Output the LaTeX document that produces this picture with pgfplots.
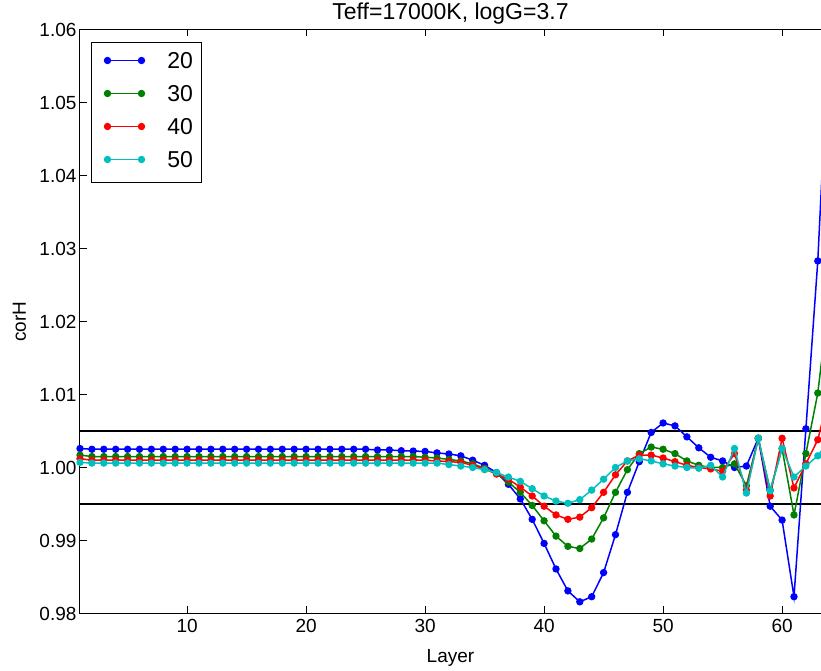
\documentclass[border=0pt]{standalone}
\usepackage{pgfplots}
\pgfplotsset{compat=1.18}
\usepackage{pgfplotstable}
\usepackage{fontspec}
\setmainfont{Liberation Sans}
\definecolor{mblue}{rgb}{0,0,1}
\definecolor{mgreen}{rgb}{0,0.5,0}
\definecolor{mred}{rgb}{1,0,0}
\definecolor{mcyan}{rgb}{0,0.75,0.75}
\pgfplotsset{mylegend/.style={legend image code/.code={%
  \path[draw=none, fill=none] (0pt,-13.25pt) rectangle (44.2pt,8.25pt);
  \draw[#1, line width=1.5pt] plot coordinates {(7.6pt,0pt) (41.6pt,0pt)};}}}
\pgfplotstableread{
x b g r c
1 1.0026 1.0017 1.0012 1.0007
2 1.0025 1.0015 1.0010 1.0006
3 1.0025 1.0015 1.0010 1.0006
4 1.0025 1.0015 1.0010 1.0006
5 1.0025 1.0015 1.0010 1.0006
6 1.0025 1.0015 1.0010 1.0006
7 1.0025 1.0015 1.0010 1.0006
8 1.0025 1.0015 1.0010 1.0006
9 1.0025 1.0015 1.0010 1.0006
10 1.0025 1.0015 1.0010 1.0006
11 1.0025 1.0015 1.0010 1.0006
12 1.0025 1.0015 1.0010 1.0006
13 1.0025 1.0015 1.0010 1.0006
14 1.0025 1.0015 1.0010 1.0006
15 1.0025 1.0015 1.0010 1.0006
16 1.0025 1.0015 1.0010 1.0006
17 1.0025 1.0015 1.0010 1.0006
18 1.0025 1.0015 1.0010 1.0006
19 1.0025 1.0015 1.0010 1.0006
20 1.0025 1.0015 1.0010 1.0006
21 1.0025 1.0015 1.0010 1.0006
22 1.0025 1.0015 1.0010 1.0006
23 1.0025 1.0015 1.0010 1.0006
24 1.0025 1.0015 1.0010 1.0006
25 1.0025 1.0015 1.0010 1.0006
26 1.0024 1.0015 1.0010 1.0006
27 1.0024 1.0015 1.0010 1.0006
28 1.0023 1.0015 1.0010 1.0006
29 1.00225 1.0015 1.0010 1.0006
30 1.0022 1.0014 1.0010 1.0006
31 1.0020 1.0013 1.0009 1.0006
32 1.00185 1.0011 1.0008 1.0004
33 1.0016 1.0009 1.0007 1.0002
34 1.0010 1.0005 1.0003 1.0000
35 1.0003 0.9999 0.9998 0.9997
36 0.9993 0.9992 0.9991 0.9993
37 0.9977 0.9980 0.9984 0.9987
38 0.9957 0.9966 0.9973 0.9981
39 0.9929 0.9948 0.9961 0.9971
40 0.9896 0.9927 0.9947 0.9961
41 0.9861 0.9906 0.9935 0.9954
42 0.9831 0.9892 0.9929 0.9951
43 0.9816 0.9889 0.9932 0.9956
44 0.9823 0.9902 0.9945 0.9969
45 0.9856 0.9931 0.9966 0.9984
46 0.9908 0.9966 0.9990 1.0000
47 0.9966 0.9997 1.0009 1.0009
48 1.0008 1.0019 1.0017 1.0012
49 1.0048 1.0028 1.0017 1.0009
50 1.0061 1.0025 1.0013 1.0005
51 1.0057 1.0019 1.0008 1.0002
52 1.0042 1.0009 1.0003 1.0000
53 1.0027 1.0003 1.0000 0.9999
54 1.0014 1.0000 0.9998 1.0003
55 1.0009 1.0000 0.9995 0.9987
56 1.0000 1.0005 1.0019 1.0026
57 1.0002 0.9975 0.9969 0.9965
58 1.0040 1.0040 1.0040 1.0040
59 0.9947 0.9969 0.9961 0.9968
60 0.9928 1.0026 1.0040 1.0026
61 0.9823 0.9935 0.9972 0.9987
62 1.0053 1.0019 1.0005 1.0002
63 1.0283 1.0102 1.0038 1.0016
64 1.0617 1.0239 1.0103 1.0038
}\datatable
\begin{document}
\begin{tikzpicture}
\begin{axis}[
  scale only axis,
  width=741pt, height=584pt,
  xmin=1, xmax=63.27,
  ymin=0.98, ymax=1.06,
  axis x line*=box, axis y line*=left,
  axis line style={-, line width=1pt, black},
  tick align=inside,
  major tick length=7pt,
  tick style={black, line width=0.8pt},
  xtick={10,20,30,40,50,60},
  xtick pos=both,
  ytick={0.98,0.99,1.00,1.01,1.02,1.03,1.04,1.05,1.06},
  ytick pos=left,
  /pgf/number format/assume math mode=true,
  yticklabel style={/pgf/number format/.cd, fixed, fixed zerofill, precision=2},
  xticklabel style={yshift=-2.5pt},
  ticklabel style={font=\fontsize{19}{20}\selectfont},
  xlabel={Layer}, ylabel={corH},
  label style={font=\fontsize{19}{22}\selectfont},
  xlabel style={yshift=-10pt},
  ylabel style={at={(axis description cs:-0.068,0.5)}, anchor=south},
  title={Teff=17000K, logG=3.7},
  title style={font=\fontsize{23}{24}\selectfont, yshift=-4pt},
  clip mode=individual,
  mylegend,
  legend style={at={(axis description cs:0,1)}, anchor=north west,
    xshift=11pt, yshift=-12.5pt, draw=black, line width=1pt,
    font=\fontsize{23}{23}\selectfont, inner xsep=8.4pt, inner ysep=9.75pt,
    row sep=11.5pt, column sep=23pt,
    nodes={inner sep=0pt, text height=16.5pt, text depth=0pt}},
  legend cell align=left,
]
\addplot[black, line width=1.5pt, forget plot] coordinates {(0,1.005) (70,1.005)};
\addplot[black, line width=1.5pt, forget plot] coordinates {(0,0.995) (70,0.995)};
\addplot[mblue, line width=1.5pt, mark=*, mark size=2.9pt, mark options={solid}] table[x=x, y=b] {\datatable};
\addplot[mgreen, line width=1.5pt, mark=*, mark size=2.9pt, mark options={solid}] table[x=x, y=g] {\datatable};
\addplot[mred, line width=1.5pt, mark=*, mark size=2.9pt, mark options={solid}] table[x=x, y=r] {\datatable};
\addplot[mcyan, line width=1.5pt, mark=*, mark size=2.9pt, mark options={solid}] table[x=x, y=c] {\datatable};
\legend{20,30,40,50}
\coordinate (ll) at (rel axis cs:0,0);
\coordinate (ur) at (rel axis cs:1,1);
\end{axis}
\pgfresetboundingbox
\path ([shift={(-80pt,-57.5pt)}]ll) rectangle ([shift={(0pt,29.5pt)}]ur);
\end{tikzpicture}
\end{document}
